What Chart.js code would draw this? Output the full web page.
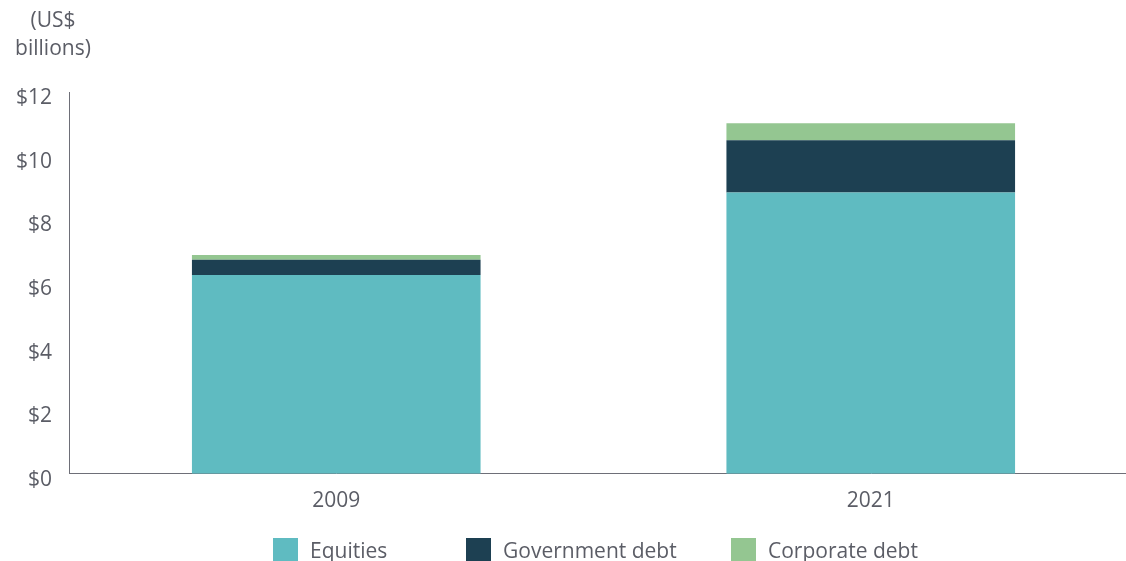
<!DOCTYPE html>
<html>
<head>
<meta charset="utf-8">
<script src="https://cdn.jsdelivr.net/npm/chart.js@4.4.1/dist/chart.umd.min.js"></script>
<style>
  html, body { margin: 0; padding: 0; background: #fff; overflow: hidden; }
  body { width: 1126px; height: 561px; position: relative; font-family: "Open Sans", sans-serif; color: #5b5d66; }
  #wrap { position: absolute; left: 0; top: 0; width: 1138px; height: 561px; }
  #unit { position: absolute; left: 10px; top: 5px; width: 86px; text-align: center; font-size: 21px; line-height: 28px; }
  #legend { position: absolute; left: 273px; top: 536px; display: flex; font-size: 21px; }
  .item { display: flex; align-items: center; }
  .item:nth-child(1) { width: 193px; }
  .item:nth-child(2) { width: 265px; }
  .swatch { width: 25px; height: 25px; margin-right: 12px; }
</style>
</head>
<body>
<div id="wrap"><canvas id="chart" width="1138" height="561"></canvas></div>
<div id="unit">(US$<br>billions)</div>
<div id="legend"></div>
<script>
const years = ['2009', '2021'];
const seriesNames = ['Equities', 'Government debt', 'Corporate debt'];
const equities = [6.25, 8.84];
const governmentDebt = [0.48, 1.64];
const corporateDebt = [0.15, 0.54];
const yTicks = [0, 2, 4, 6, 8, 10, 12];
const colors = ['#5fbbc1', '#1d4052', '#94c691'];

const textColor = '#5b5d66';
const axisColor = '#6e6f78';
const font = { family: '"Open Sans", sans-serif', size: 21 };

const datasets = [equities, governmentDebt, corporateDebt].map((data, i) => ({
  label: seriesNames[i],
  data: data,
  backgroundColor: colors[i],
  borderWidth: 0,
  barPercentage: 0.54,
  categoryPercentage: 1
}));

new Chart(document.getElementById('chart'), {
  type: 'bar',
  data: { labels: years, datasets: datasets },
  options: {
    responsive: false,
    animation: false,
    layout: { padding: { top: 92, left: 0, right: 0, bottom: 32 } },
    plugins: { legend: { display: false }, tooltip: { enabled: false } },
    scales: {
      x: {
        stacked: true,
        grid: { display: false, drawTicks: false },
        border: { display: true, color: axisColor, width: 1 },
        ticks: { color: textColor, font: font, padding: 15 }
      },
      y: {
        stacked: true,
        min: 0,
        max: 12,
        afterBuildTicks: axis => { axis.ticks = yTicks.map(v => ({ value: v })); },
        afterFit: axis => { axis.width = 69; },
        grid: { display: false, drawTicks: false },
        border: { display: true, color: axisColor, width: 1 },
        ticks: {
          color: textColor,
          font: font,
          padding: 17,
          labelOffset: 6,
          callback: v => '$' + v
        }
      }
    }
  }
});

// legend built from the same series names and colours
const legend = document.getElementById('legend');
seriesNames.forEach((name, i) => {
  const item = document.createElement('div');
  item.className = 'item';
  const sw = document.createElement('span');
  sw.className = 'swatch';
  sw.style.background = colors[i];
  const txt = document.createElement('span');
  txt.textContent = name;
  item.appendChild(sw);
  item.appendChild(txt);
  legend.appendChild(item);
});
</script>
</body>
</html>
